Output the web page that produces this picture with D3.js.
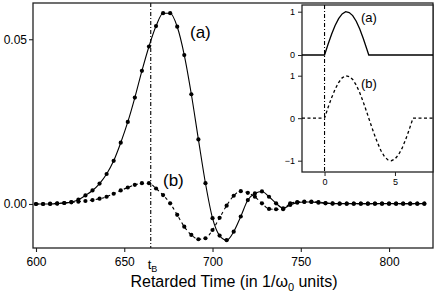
<!DOCTYPE html>
<html>
<head>
<meta charset="utf-8">
<script src="https://cdn.jsdelivr.net/npm/d3@7"></script>
<style>
  body { margin: 0; background: #fff; }
  svg { display: block; font-family: "Liberation Sans", Arial, Helvetica, sans-serif; }
</style>
</head>
<body>
<div id="app"></div>
<script>
// sample times (1/w0 units)
const times = [600, 604, 608, 612, 616, 620, 624, 628, 632, 636, 640, 644, 648, 652,
  656, 660, 664, 668, 672, 676, 680, 684, 688, 692, 696, 700, 704, 708, 712, 716,
  720, 724, 728, 732, 736, 740, 744, 748, 752, 756, 760, 764, 768, 772, 776, 780,
  784, 788, 792, 796, 800, 804, 808, 812, 816, 820];

// curve (a), solid
const seriesA = [0, 0, 0, 0.0001, 0.0003, 0.0006, 0.0013, 0.0026, 0.0041, 0.0062,
  0.0091, 0.0131, 0.0186, 0.0249, 0.0323, 0.0404, 0.0478, 0.054, 0.0579, 0.0579,
  0.0538, 0.0452, 0.0333, 0.0196, 0.0063, -0.0043, -0.0096, -0.011, -0.0084, -0.0038,
  0.0012, 0.0032, 0.0038, 0.0022, 0.0002, -0.0013, -0.0003, 0.0004, 0.0006, 0.0006,
  0.0004, 0.0002, 0.0001, 0.0001, 0.0001, 0.0001, 0.0001, 0.0001, 0.0001, 0.0001,
  0.0001, 0.0001, 0.0001, 0.0001, 0.0001, 0.0001];

// curve (b), dashed
const seriesB = [0, 0, 0.0001, 0.0002, 0.0003, 0.0005, 0.0007, 0.0009, 0.0012, 0.0016,
  0.0022, 0.0031, 0.0041, 0.005, 0.0058, 0.0063, 0.0063, 0.0047, 0.0027, 0.0002,
  -0.0033, -0.0069, -0.0094, -0.0107, -0.0104, -0.0079, -0.0042, -0.0005, 0.0025, 0.0039,
  0.0034, 0.0022, 0.0002, -0.0015, -0.0016, -0.0016, 0.0002, 0.0006, 0.0007, 0.0007,
  0.0006, 0.0003, 0.0002, 0.0001, 0.0001, 0.0001, 0.0001, 0.0001, 0.0001, 0.0001,
  0.0001, 0.0001, 0.0001, 0.0001, 0.0001, 0.0001];

const xTicks = [600, 650, 700, 750, 800];
const yTicks = [0, 0.05];
const tB = 665;

// inset: drive pulses
const insetTimes = [-1.6, 0, 0.25, 0.5, 0.75, 1, 1.25, 1.5, 1.75, 2, 2.25, 2.5, 2.75,
  3, 3.14, 3.25, 3.5, 3.75, 4, 4.25, 4.5, 4.75, 5, 5.25, 5.5, 5.75, 6, 6.28, 7.7];
const insetA = [0, 0, 0.25, 0.48, 0.68, 0.84, 0.95, 1, 0.98, 0.91, 0.78, 0.6, 0.38,
  0.14, 0, 0, 0, 0, 0, 0, 0, 0, 0, 0, 0, 0, 0, 0, 0];
const insetB = [0, 0, 0.25, 0.48, 0.68, 0.84, 0.95, 1, 0.98, 0.91, 0.78, 0.6, 0.38,
  0.14, 0, -0.11, -0.35, -0.57, -0.76, -0.9, -0.98, -1, -0.96, -0.86, -0.71, -0.51,
  -0.28, 0, 0];
const insetXTicks = [0, 5];

const width = 436;
const height = 292;
const margin = { top: 3, right: 3, bottom: 44, left: 33 };

const svg = d3
  .select("#app")
  .append("svg")
  .attr("width", width)
  .attr("height", height);

const xScale = d3
  .scaleLinear()
  .domain([598.3, 824.9])
  .range([margin.left, width - margin.right]);

const yScale = d3
  .scaleLinear()
  .domain([-0.01336, 0.061])
  .range([height - margin.bottom, margin.top]);

const pointsA = times.map((t, i) => [t, seriesA[i]]);
const pointsB = times.map((t, i) => [t, seriesB[i]]);

const line = d3
  .line()
  .x(d => xScale(d[0]))
  .y(d => yScale(d[1]))
  .curve(d3.curveMonotoneX);

// tB marker
svg
  .append("line")
  .attr("x1", xScale(tB))
  .attr("x2", xScale(tB))
  .attr("y1", margin.top)
  .attr("y2", height - margin.bottom)
  .attr("stroke", "#000")
  .attr("stroke-width", 1.1)
  .attr("stroke-dasharray", "4,2,1,2");

svg
  .append("path")
  .datum(pointsB)
  .attr("d", line)
  .attr("fill", "none")
  .attr("stroke", "#000")
  .attr("stroke-width", 1.1)
  .attr("stroke-dasharray", "3,3");

svg
  .append("path")
  .datum(pointsA)
  .attr("d", line)
  .attr("fill", "none")
  .attr("stroke", "#000")
  .attr("stroke-width", 1.1);

svg
  .selectAll("circle.a")
  .data(pointsA)
  .enter()
  .append("circle")
  .attr("class", "a")
  .attr("cx", d => xScale(d[0]))
  .attr("cy", d => yScale(d[1]))
  .attr("r", 2.1);

svg
  .selectAll("circle.b")
  .data(pointsB)
  .enter()
  .append("circle")
  .attr("class", "b")
  .attr("cx", d => xScale(d[0]))
  .attr("cy", d => yScale(d[1]))
  .attr("r", 2.1);

// axes
const xAxis = d3.axisBottom(xScale).tickValues(xTicks).tickSize(4).tickPadding(5);
const yAxis = d3
  .axisLeft(yScale)
  .tickValues(yTicks)
  .tickFormat(d3.format(".2f"))
  .tickSize(4)
  .tickPadding(2);

const gx = svg
  .append("g")
  .attr("transform", `translate(0, ${height - margin.bottom})`)
  .call(xAxis);
const gy = svg
  .append("g")
  .attr("transform", `translate(${margin.left}, 0)`)
  .call(yAxis);

[gx, gy].forEach(g => {
  g.select(".domain").remove();
  g.selectAll("line").attr("stroke", "#222").attr("stroke-width", 1.1);
  g.selectAll("text").attr("fill", "#000").style("font-size", "12px")
    .style("font-family", "'Liberation Sans', Arial, sans-serif");
});

// frame
svg
  .append("rect")
  .attr("x", margin.left)
  .attr("y", margin.top)
  .attr("width", width - margin.left - margin.right)
  .attr("height", height - margin.top - margin.bottom)
  .attr("fill", "none")
  .attr("stroke", "#222")
  .attr("stroke-width", 1.3);

// tB label
const tbLabel = svg
  .append("text")
  .attr("x", xScale(tB) - 3)
  .attr("y", height - margin.bottom + 21)
  .style("font-size", "13px");
tbLabel.append("tspan").text("t");
tbLabel.append("tspan").attr("dy", 3).style("font-size", "9px").text("B");

// axis title
const title = svg
  .append("text")
  .attr("x", 234)
  .attr("y", 287)
  .attr("text-anchor", "middle")
  .style("font-size", "16px");
title.append("tspan").text("Retarded Time (in 1/\u03c9");
title.append("tspan").attr("dy", 4).style("font-size", "11px").text("0");
title.append("tspan").attr("dy", -4).text(" units)");

svg
  .append("text")
  .attr("x", 190)
  .attr("y", 38)
  .style("font-size", "17px")
  .text("(a)");

svg
  .append("text")
  .attr("x", 163)
  .attr("y", 186)
  .style("font-size", "17px")
  .text("(b)");

// inset
const inset = { left: 302, right: 433, top: 5, bottom: 172 };

svg
  .append("rect")
  .attr("x", inset.left)
  .attr("y", inset.top)
  .attr("width", inset.right - inset.left)
  .attr("height", inset.bottom - inset.top)
  .attr("fill", "#fff")
  .attr("stroke", "#222")
  .attr("stroke-width", 1.3);

const ix = d3.scaleLinear().domain([-1.6, 7.7]).range([inset.left, inset.right]);
const iyA = d3.scaleLinear().domain([0, 1]).range([55, 11.7]);
const iyB = d3.scaleLinear().domain([-1, 1]).range([160.7, 75.7]);

svg
  .append("line")
  .attr("x1", ix(0))
  .attr("x2", ix(0))
  .attr("y1", inset.top)
  .attr("y2", inset.bottom)
  .attr("stroke", "#000")
  .attr("stroke-width", 1.1)
  .attr("stroke-dasharray", "4,2,1,2");

svg
  .append("path")
  .datum(insetTimes.map((t, i) => [t, insetA[i]]))
  .attr("d", d3.line().x(d => ix(d[0])).y(d => iyA(d[1])))
  .attr("fill", "none")
  .attr("stroke", "#000")
  .attr("stroke-width", 1.3);

svg
  .append("path")
  .datum(insetTimes.map((t, i) => [t, insetB[i]]))
  .attr("d", d3.line().x(d => ix(d[0])).y(d => iyB(d[1])))
  .attr("fill", "none")
  .attr("stroke", "#000")
  .attr("stroke-width", 1.3)
  .attr("stroke-dasharray", "3,2.5");

const insetAxis = (g, axis) => {
  g.call(axis.tickFormat(d3.format("d")));
  g.select(".domain").remove();
  g.selectAll("line").attr("stroke", "#222").attr("stroke-width", 1);
  g.selectAll("text").attr("fill", "#000").style("font-size", "9px")
    .style("font-family", "'Liberation Sans', Arial, sans-serif");
};

svg
  .append("g")
  .attr("transform", `translate(${inset.left}, 0)`)
  .call(g => insetAxis(g, d3.axisLeft(iyA).tickValues([0, 1]).tickSize(4).tickPadding(3)));
svg
  .append("g")
  .attr("transform", `translate(${inset.left}, 0)`)
  .call(g => insetAxis(g, d3.axisLeft(iyB).tickValues([-1, 0, 1]).tickSize(4).tickPadding(3)));
svg
  .append("g")
  .attr("transform", `translate(0, ${inset.bottom})`)
  .call(g => insetAxis(g, d3.axisBottom(ix).tickValues(insetXTicks).tickSize(4).tickPadding(3)));

svg
  .append("text")
  .attr("x", 361)
  .attr("y", 22)
  .style("font-size", "13px")
  .text("(a)");

svg
  .append("text")
  .attr("x", 361)
  .attr("y", 88)
  .style("font-size", "13px")
  .text("(b)");
</script>
</body>
</html>
